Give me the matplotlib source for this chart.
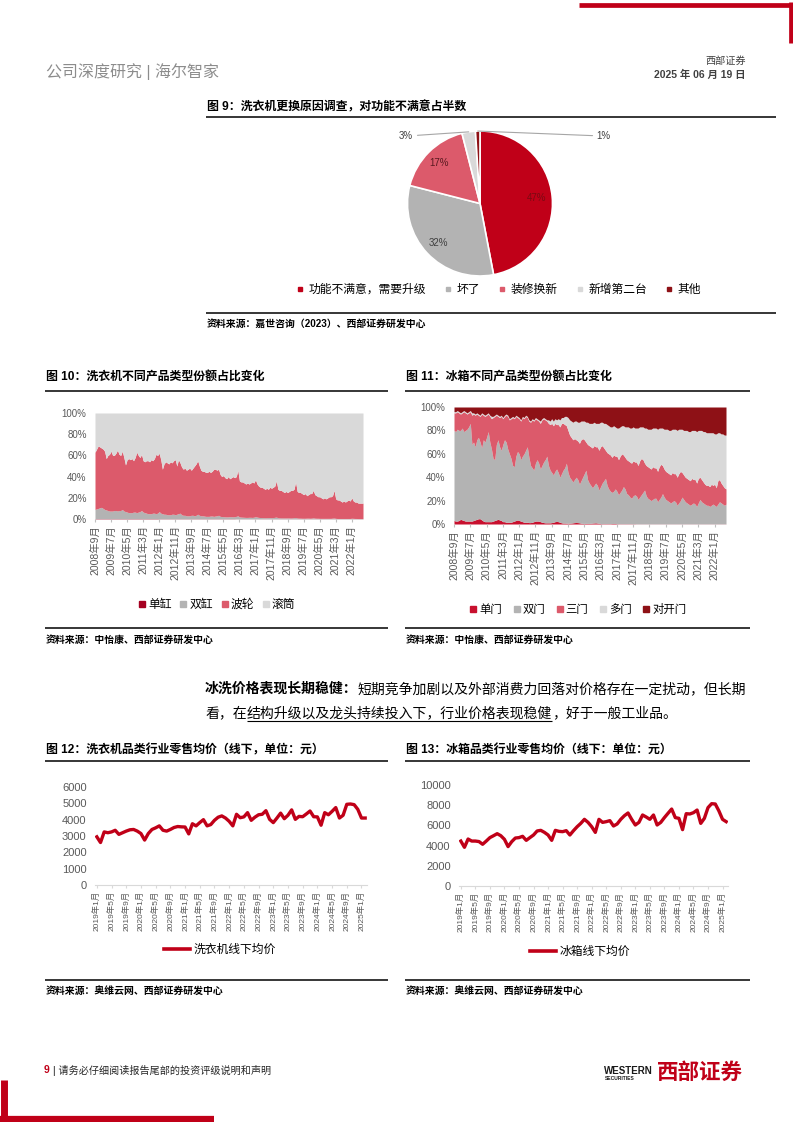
import numpy as np
import matplotlib
matplotlib.use('Agg')
import matplotlib.pyplot as plt
from matplotlib.lines import Line2D

plt.rcParams['font.family'] = ['Liberation Sans', 'Noto Sans CJK SC', 'DejaVu Sans']

# ---------------- data ----------------
# 图9 洗衣机更换原因
pie_labels = ['功能不满意，需要升级', '坏了', '装修换新', '新增第二台', '其他']
pie_values = [47, 32, 17, 3, 1]

# 图10 洗衣机份额（累计上沿，%），2008年9月 - 2022年8月，月度
area_ticks = ['2008年9月', '2009年7月', '2010年5月', '2011年3月', '2012年1月', '2012年11月',
              '2013年9月', '2014年7月', '2015年5月', '2016年3月', '2017年1月', '2017年11月',
              '2018年9月', '2019年7月', '2020年5月', '2021年3月', '2022年1月']
wash_names = ['单缸', '双缸', '波轮', '滚筒']
wash_upto_single = [
    0.3, 0.3, 0.3, 0.3,
    0.3, 0.3, 0.3, 0.3, 0.3, 0.3, 0.3, 0.3, 0.3, 0.3, 0.3, 0.3,
    0.3, 0.3, 0.3, 0.3, 0.3, 0.3, 0.3, 0.3, 0.3, 0.3, 0.3, 0.3,
    0.3, 0.3, 0.3, 0.3, 0.3, 0.3, 0.3, 0.3, 0.3, 0.3, 0.3, 0.3,
    0.2, 0.2, 0.2, 0.2, 0.2, 0.2, 0.2, 0.2, 0.2, 0.2, 0.2, 0.2,
    0.2, 0.2, 0.2, 0.2, 0.2, 0.2, 0.2, 0.2, 0.2, 0.2, 0.2, 0.2,
    0.2, 0.2, 0.2, 0.2, 0.2, 0.2, 0.2, 0.2, 0.2, 0.2, 0.2, 0.2,
    0.2, 0.2, 0.2, 0.2, 0.2, 0.2, 0.2, 0.2, 0.2, 0.2, 0.2, 0.2,
    0.1, 0.1, 0.1, 0.1, 0.1, 0.1, 0.1, 0.1, 0.1, 0.1, 0.1, 0.1,
    0.1, 0.1, 0.1, 0.1, 0.1, 0.1, 0.1, 0.1, 0.1, 0.1, 0.1, 0.1,
    0.1, 0.1, 0.1, 0.1, 0.1, 0.1, 0.1, 0.1, 0.1, 0.1, 0.1, 0.1,
    0.1, 0.1, 0.1, 0.1, 0.1, 0.1, 0.1, 0.1, 0.1, 0.1, 0.1, 0.1,
    0.1, 0.1, 0.1, 0.1, 0.1, 0.1, 0.1, 0.1, 0.1, 0.1, 0.1, 0.1,
    0.1, 0.1, 0.1, 0.1, 0.1, 0.1, 0.1, 0.1, 0.1, 0.1, 0.1, 0.1,
    0.1, 0.1, 0.1, 0.1, 0.1, 0.1, 0.1, 0.1]
wash_upto_twin = [
    9, 9.5, 10, 10.5,
    11, 10, 9, 8.5, 8, 7.5, 7.5, 7.5, 8, 8, 7.5, 8,
    8, 9, 7.5, 7, 6.5, 6, 6, 6, 6.5, 6.5, 6, 6.5,
    7, 8, 6.5, 6, 5.5, 5, 5, 5, 5.5, 5.5, 5, 5.5,
    7, 5.5, 5, 4.5, 4.5, 4, 4, 4, 4.5, 4.5, 4, 4.5,
    5, 5.5, 4, 3.5, 3.5, 3, 3, 3, 3.5, 3.5, 3, 3.5,
    4.5, 3.5, 3, 3, 2.8, 2.5, 2.5, 2.5, 2.8, 2.8, 2.5, 2.8,
    3, 3.5, 2.5, 2.3, 2.2, 2, 2, 2, 2.2, 2.2, 2, 2.2,
    2.5, 3, 2, 1.8, 1.7, 1.6, 1.5, 1.5, 1.6, 1.6, 1.5, 1.7,
    2.2, 1.8, 1.5, 1.4, 1.3, 1.2, 1.2, 1.2, 1.3, 1.3, 1.2, 1.3,
    1.6, 1.8, 1.2, 1.1, 1, 1, 1, 1, 1, 1, 0.9, 1,
    1.2, 1.4, 0.9, 0.8, 0.8, 0.7, 0.7, 0.7, 0.8, 0.8, 0.7, 0.8,
    1.1, 0.8, 0.7, 0.7, 0.6, 0.6, 0.6, 0.6, 0.6, 0.6, 0.6, 0.6,
    0.8, 0.9, 0.6, 0.5, 0.5, 0.5, 0.5, 0.5, 0.5, 0.5, 0.5, 0.5,
    0.7, 0.6, 0.5, 0.5, 0.4, 0.4, 0.4, 0.4]
wash_upto_pulsator = [
    63, 66, 69, 68,
    67, 66, 64, 57, 60, 61, 64, 60, 60, 62, 65, 61,
    60, 64, 58, 51, 56, 57, 56, 57, 55, 58, 63, 60,
    58, 61, 55, 54, 55, 55, 54, 56, 55, 57, 61, 60,
    62, 56, 47, 52, 54, 53, 52, 54, 53, 55, 56, 50,
    56, 53, 49, 47, 48, 46, 47, 48, 46, 48, 50, 52,
    55, 50, 46, 45, 45, 44, 44, 45, 44, 45, 47, 47,
    46, 47, 42, 40, 41, 39, 38, 40, 38, 39, 40, 39,
    40, 46, 36, 35, 35, 34, 33, 34, 33, 34, 35, 34,
    37, 33, 31, 30, 30, 29, 28, 29, 28, 30, 29, 30,
    31, 36, 28, 27, 27, 26, 25, 26, 25, 26, 27, 27,
    28, 35, 26, 25, 25, 24, 23, 24, 22, 23, 24, 24,
    27, 23, 22, 21, 21, 20, 19, 20, 19, 20, 21, 21,
    22, 27, 19, 18, 18, 17, 16, 17, 16, 17, 18, 17,
    20, 17, 16, 16, 15, 15, 15, 15]

# 图11 冰箱份额（累计上沿，%）
fridge_names = ['单门', '双门', '三门', '多门', '对开门']
fr_upto_single = [
    3, 2.5, 2.5, 3,
    4, 3.5, 3, 2.5, 2.5, 2.5, 2.5, 2.5, 3, 3.5, 4, 4.5,
    4.5, 3.5, 2.5, 2, 2, 2, 2, 2, 2.5, 3, 3.5, 4,
    3.5, 3, 2, 2, 1.5, 1.5, 1.5, 1.5, 2, 2.5, 3, 3.5,
    3, 2.5, 2, 1.5, 1.5, 1.5, 1.2, 1.2, 1.5, 2, 2.5, 2.5,
    2.5, 2, 1.5, 1.2, 1, 1, 1, 1, 1.2, 1.5, 2, 2.2,
    2, 1.5, 1, 0.8, 0.8, 0.7, 0.7, 0.7, 0.8, 1, 1.2, 1.3,
    1.2, 1, 0.7, 0.5, 0.5, 0.5, 0.5, 0.5, 0.6, 0.8, 0.9, 1,
    0.8, 0.6, 0.4, 0.3, 0.3, 0.3, 0.3, 0.3, 0.3, 0.4, 0.4, 0.4,
    0.3, 0.2, 0.2, 0.2, 0.2, 0.2, 0.2, 0.2, 0.2, 0.2, 0.2, 0.2,
    0.1, 0.1, 0.1, 0.1, 0.1, 0.1, 0.1, 0.1, 0.1, 0.1, 0.1, 0.1,
    0.1, 0.1, 0.1, 0.1, 0.1, 0.1, 0.1, 0.1, 0.1, 0.1, 0.1, 0.1,
    0.1, 0.1, 0.1, 0.1, 0.1, 0.1, 0.1, 0.1, 0.1, 0.1, 0.1, 0.1,
    0.1, 0.1, 0.1, 0.1, 0.1, 0.1, 0.1, 0.1, 0.1, 0.1, 0.1, 0.1,
    0.1, 0.1, 0.1, 0.1, 0.1, 0.1, 0.1, 0.1]
fr_upto_double = [
    80, 79, 81, 80,
    80, 82, 79, 80, 81, 83, 86, 68, 70, 66, 72, 74,
    70, 65, 72, 70, 74, 79, 70, 64, 56, 55, 68, 72,
    66, 63, 68, 72, 70, 64, 60, 56, 50, 49, 58, 62,
    60, 55, 58, 60, 63, 66, 57, 50, 48, 46, 52, 55,
    52, 47, 50, 53, 55, 58, 50, 46, 44, 42, 45, 47,
    44, 40, 43, 46, 48, 52, 44, 40, 38, 36, 38, 40,
    38, 34, 37, 40, 43, 46, 38, 35, 33, 31, 33, 35,
    33, 29, 32, 35, 37, 39, 33, 30, 28, 27, 28, 30,
    28, 25, 27, 29, 32, 30, 26, 25, 23, 22, 24, 25,
    24, 21, 23, 25, 27, 29, 24, 22, 21, 20, 21, 22,
    22, 19, 21, 23, 26, 23, 21, 20, 19, 18, 19, 20,
    19, 16, 18, 20, 23, 21, 19, 18, 17, 16, 17, 18,
    17, 15, 18, 21, 19, 18, 17, 16, 16, 15, 16, 17,
    16, 15, 17, 19, 18, 17, 16, 17]
fr_upto_triple = [
    95, 95, 96, 95,
    94, 95, 96, 95, 94, 95, 96, 93, 94, 93, 94, 93,
    92, 94, 93, 92, 93, 94, 92, 90, 91, 92, 93, 92,
    91, 92, 90, 92, 93, 92, 89, 90, 91, 90, 92, 91,
    90, 88, 91, 90, 92, 91, 88, 87, 89, 88, 90, 89,
    88, 86, 89, 90, 89, 88, 86, 85, 86, 84, 86, 85,
    85, 83, 86, 86, 85, 84, 80, 76, 74, 72, 73, 72,
    71, 69, 72, 73, 72, 70, 68, 67, 66, 65, 67, 66,
    66, 63, 66, 67, 65, 63, 61, 60, 59, 57, 59, 58,
    58, 55, 58, 60, 59, 57, 55, 54, 53, 52, 54, 53,
    53, 50, 54, 56, 55, 52, 50, 49, 48, 47, 49, 48,
    48, 45, 49, 51, 50, 47, 45, 44, 43, 42, 44, 43,
    43, 40, 43, 45, 44, 42, 40, 39, 38, 37, 39, 38,
    38, 35, 39, 40, 38, 36, 34, 33, 33, 32, 34, 33,
    34, 31, 37, 38, 35, 33, 31, 30]
fr_upto_multi = [
    96, 96, 97, 96,
    95, 96, 97, 96, 95, 96, 97, 95, 95, 94, 95, 94,
    93, 95, 94, 93, 94, 95, 93, 92, 92, 93, 94, 93,
    92, 93, 91, 93, 94, 93, 90, 91, 92, 91, 93, 92,
    91, 89, 92, 91, 93, 92, 89, 88, 90, 89, 91, 90,
    89, 88, 90, 91, 90, 89, 89, 88, 90, 88, 90, 89,
    90, 89, 91, 91, 92, 92, 91, 89, 88, 87, 88, 88,
    87, 87, 88, 88, 88, 87, 87, 86, 86, 86, 87, 86,
    86, 86, 87, 87, 86, 86, 85, 84, 83, 83, 84, 83,
    82, 82, 83, 84, 84, 83, 83, 83, 82, 82, 83, 82,
    82, 82, 83, 83, 83, 82, 82, 81, 81, 81, 82, 82,
    82, 81, 82, 82, 82, 81, 81, 81, 80, 80, 81, 81,
    81, 80, 81, 81, 81, 80, 80, 80, 79, 79, 80, 80,
    80, 79, 80, 80, 80, 79, 79, 78, 78, 78, 78, 78,
    77, 77, 78, 78, 77, 77, 76, 76]

# 图12/13 线下零售均价（元），2019年1月 - 2025年2月
price_ticks = ['2019年1月', '2019年5月', '2019年9月', '2020年1月', '2020年5月', '2020年9月',
               '2021年1月', '2021年5月', '2021年9月', '2022年1月', '2022年5月', '2022年9月',
               '2023年1月', '2023年5月', '2023年9月', '2024年1月', '2024年5月', '2024年9月',
               '2025年1月']
wm_price = [
    2950, 2600, 3250, 3200, 3250, 3350, 3100, 3200, 3300, 3380, 3400, 3300,
    3150, 2750, 3150, 3400, 3500, 3620, 3350, 3300, 3400, 3520, 3580, 3560,
    3550, 3130, 3750, 3620, 3820, 4000, 3620, 3700, 3960, 4150, 4230, 4100,
    3900, 3620, 4330, 4120, 4170, 4430, 3960, 4150, 4300, 4330, 4550, 4020,
    3820, 4100, 4400, 4060, 4270, 4600, 4020, 4200, 4180, 4350, 4530, 4180,
    4170, 3660, 4430, 4300, 4510, 4740, 4100, 4270, 4940, 4960, 4920, 4630,
    4100, 4100]
fr_price = [
    4450, 3830, 4650, 4450, 4450, 4400, 4130, 4450, 4790, 4980, 5180, 4980,
    4620, 3900, 4390, 4750, 4790, 4920, 4520, 4790, 5050, 5450, 5510, 5310,
    5050, 4520, 5510, 5410, 5380, 5480, 5050, 5480, 5870, 6200, 6600, 6300,
    5870, 5310, 6600, 6300, 6370, 6470, 5940, 6140, 6600, 6960, 7230, 6600,
    6040, 6300, 7030, 6830, 6600, 7030, 6040, 6300, 6770, 7200, 7620, 6770,
    6700, 5580, 7160, 7130, 7260, 7520, 6200, 6700, 7760, 8150, 8120, 7430,
    6600, 6370]

# ---------------- page ----------------
RED = '#C00018'
PINK = '#DC5A6B'
GRAY = '#B3B3B3'
LGRAY = '#D9D9D9'
DRED = '#8E1116'
TICK = '#595959'

W, H = 793, 1122
fig = plt.figure(figsize=(W / 100, H / 100), dpi=100)
rend = fig.canvas.get_renderer()


def box(x0, y0, x1, y1):
    # pixel box (top-left origin) -> axes
    return fig.add_axes([x0 / W, 1 - y1 / H, (x1 - x0) / W, (y1 - y0) / H])


def txt(x, y, s, size=8, **kw):
    kw.setdefault('va', 'center')
    return fig.text(x / W, 1 - y / H, s, fontsize=size, **kw)


def rule(x0, x1, y0, y1=None, lw=1.0, color='black'):
    if y1 is None:
        y1 = y0
    fig.add_artist(Line2D([x0 / W, x1 / W], [1 - y0 / H, 1 - y1 / H], lw=lw,
                          color=color, solid_capstyle='butt'))


def legend(handles, labels, x, y, size, **kw):
    fig.legend(handles, labels, loc='center', bbox_to_anchor=(x / W, 1 - y / H),
               ncol=len(labels), frameon=False, fontsize=size, **kw)


def squares(colors, ms):
    return [Line2D([], [], ls='none', marker='s', ms=ms, mfc=c, mec=c) for c in colors]


# page frame
rule(579, 793, 4.5, lw=3.4, color=RED)
rule(790.5, 790.5, 2, 43, lw=3.4, color=RED)
rule(3.5, 3.5, 1080, 1122, lw=5, color=RED)
rule(0, 214, 1119, lw=4.5, color=RED)

txt(46, 72, '公司深度研究 | 海尔智家', 11.5, color='#8C8C8C')
txt(746, 61, '西部证券', 7.3, ha='right', color='#404040')
txt(746, 75, '2025 年 06 月 19 日', 7.5, ha='right', color='#404040', weight='bold')

# ---- 图9 pie ----
txt(207, 107, '图 9：洗衣机更换原因调查，对功能不满意占半数', 8.6, weight='bold')
rule(206, 776, 117, lw=1.1)
pie_colors = [RED, GRAY, PINK, LGRAY, DRED]
ax = box(405, 128.5, 555, 278.5)
wedges, _, autotexts = ax.pie(pie_values, colors=pie_colors, startangle=90, counterclock=False,
                              radius=1, wedgeprops=dict(edgecolor='white', linewidth=1.2),
                              autopct=lambda p: f'{p:.0f}%' if p >= 5 else '',
                              pctdistance=0.79, textprops=dict(fontsize=7))
for t, c in zip(autotexts, ['#7A0A12', '#404040', '#5A1A20', '#404040', '#404040']):
    t.set_color(c)
lim = 75 / 72.5
ax.set_xlim(-lim, lim)
ax.set_ylim(-lim, lim)
ax.set_aspect('equal')
ax.axis('off')
line_kw = dict(arrowstyle='-', color='#A6A6A6', lw=0.8, shrinkA=1, shrinkB=0)
ax.annotate(f'{pie_values[3]}%', xy=(-0.156, 0.988), xytext=(-0.92, 0.93), fontsize=7,
            color='#404040', ha='right', va='center', arrowprops=line_kw)
ax.annotate(f'{pie_values[4]}%', xy=(-0.031, 0.9995), xytext=(1.61, 0.93), fontsize=7,
            color='#404040', ha='left', va='center', arrowprops=line_kw)
legend(squares(pie_colors, 3.2), pie_labels, 499, 290, 8.5,
       handlelength=0.5, handletextpad=0.5, columnspacing=1.6)
rule(206, 776, 313, lw=1.1)
txt(207, 324, '资料来源：嘉世咨询（2023）、西部证券研发中心', 7.1, weight='bold')


# ---- 图10 / 图11 stacked shares ----
def share_axes(ax, bounds, colors):
    x = np.arange(len(bounds[0]))
    lower = np.zeros(len(x))
    for b, c in zip(bounds, colors):
        ax.fill_between(x, lower, b, color=c, lw=0)
        lower = np.asarray(b, dtype=float)
    ax.fill_between(x, lower, 100, color=colors[-1], lw=0)
    ax.set_xlim(0, len(x) - 1)
    ax.set_ylim(0, 100)
    ax.set_yticks(range(0, 101, 20))
    ax.set_yticklabels([f'{v}%' for v in range(0, 101, 20)])
    ax.set_xticks(range(0, len(area_ticks) * 10, 10))
    ax.set_xticklabels(area_ticks, rotation=90)
    for s in ax.spines.values():
        s.set_visible(False)
    ax.tick_params(axis='y', length=0, labelsize=7, labelcolor=TICK, pad=6)
    ax.tick_params(axis='x', length=2.5, color='#BFBFBF', labelsize=7.5, labelcolor=TICK, pad=2)


txt(46, 378, '图 10：洗衣机不同产品类型份额占比变化', 8.6, weight='bold')
rule(45, 388, 391, lw=1.1)
wash_colors = ['#A50021', GRAY, PINK, LGRAY]
ax = box(95, 413, 363, 519)
share_axes(ax, [wash_upto_single, wash_upto_twin, wash_upto_pulsator], wash_colors)
legend(squares(wash_colors, 5), wash_names, 217, 605, 8.5,
       handlelength=0.6, handletextpad=0.2, columnspacing=0.7)
rule(45, 388, 628, lw=1.1)
txt(46, 640, '资料来源：中怡康、西部证券研发中心', 7.1, weight='bold')

txt(406, 378, '图 11：冰箱不同产品类型份额占比变化', 8.6, weight='bold')
rule(405, 750, 391, lw=1.1)
fridge_colors = ['#C8102E', GRAY, PINK, LGRAY, DRED]
ax = box(454, 407, 726, 524)
share_axes(ax, [fr_upto_single, fr_upto_double, fr_upto_triple, fr_upto_multi], fridge_colors)
legend(squares(fridge_colors, 5), fridge_names, 578, 609, 8.2,
       handlelength=0.6, handletextpad=0.2, columnspacing=1.0)
rule(405, 750, 628, lw=1.1)
txt(406, 640, '资料来源：中怡康、西部证券研发中心', 7.1, weight='bold')

# ---- paragraph ----
def run(x, y, s, **kw):
    t = txt(x, y, s, 10, **kw)
    return t.get_window_extent(renderer=rend).x1


x = run(205, 689, '冰洗价格表现长期稳健：', weight='bold')
run(x, 689, '短期竞争加剧以及外部消费力回落对价格存在一定扰动，但长期')
x = run(205, 713, '看，在')
x0 = x
x = run(x, 713, '结构升级以及龙头持续投入下，行业价格表现稳健')
rule(x0, x, 721, lw=0.8)
run(x, 713, '，好于一般工业品。')


# ---- 图12 / 图13 price lines ----
def price_axes(ax, values, top, step, name, lx, ly):
    x = np.arange(len(values))
    ax.plot(x, values, color=RED, lw=2.4, solid_joinstyle='round')
    ax.set_xlim(-0.5, len(values) - 0.5)
    ax.set_ylim(0, top)
    ax.set_yticks(range(0, top + 1, step))
    ax.set_xticks(range(0, len(price_ticks) * 4, 4))
    ax.set_xticklabels(price_ticks, rotation=90)
    for k, s in ax.spines.items():
        s.set_visible(k == 'bottom')
    ax.spines['bottom'].set_color(LGRAY)
    ax.tick_params(axis='y', length=0, labelsize=8, labelcolor=TICK, pad=6)
    ax.tick_params(axis='x', length=2, color=LGRAY, labelsize=6, labelcolor=TICK, pad=2)
    legend([Line2D([], [], color=RED, lw=2.6)], [name], lx, ly, 8.5,
           handlelength=2.2, handletextpad=0.3)


txt(46, 750, '图 12：洗衣机品类行业零售均价（线下，单位：元）', 8.6, weight='bold')
rule(45, 388, 761, lw=1.1)
ax = box(95, 787, 367, 885)
price_axes(ax, wm_price, 6000, 1000, '洗衣机线下均价', 220, 950)
rule(45, 388, 980, lw=1.1)
txt(46, 991, '资料来源：奥维云网、西部证券研发中心', 7.1, weight='bold')

txt(406, 750, '图 13：冰箱品类行业零售均价（线下：单位：元）', 8.6, weight='bold')
rule(405, 750, 761, lw=1.1)
ax = box(459, 785, 728, 886)
price_axes(ax, fr_price, 10000, 2000, '冰箱线下均价', 580, 952)
rule(405, 750, 980, lw=1.1)
txt(406, 991, '资料来源：奥维云网、西部证券研发中心', 7.1, weight='bold')

# ---- footer ----
txt(44, 1070, '9', 7.5, color=RED, weight='bold')
txt(53, 1070, '| 请务必仔细阅读报告尾部的投资评级说明和声明', 7.3, color='#262626')
txt(604, 1071, 'WESTERN', 7, weight='bold', color='#1A1A1A')
txt(605, 1078.5, 'SECURITIES', 3.6, weight='bold', color='#1A1A1A')
txt(657, 1073, '西部证券', 15.5, weight='bold', color=RED)

fig.savefig('out.png', dpi=100)
